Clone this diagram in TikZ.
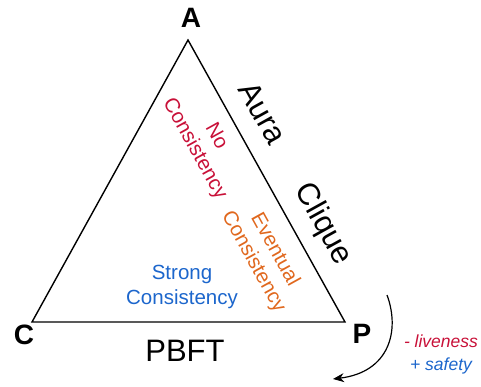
\documentclass[tikz,border=0pt]{standalone}
\usepackage{fontspec}
\setmainfont{Liberation Sans}
\usetikzlibrary{arrows.meta}
\definecolor{cred}{RGB}{200,16,56}
\definecolor{corange}{RGB}{224,104,30}
\definecolor{cblue}{RGB}{28,102,204}
\begin{document}
\begin{tikzpicture}[x=1pt,y=-1pt,
  vert/.style={font=\fontsize{28}{30}\selectfont\bfseries, inner sep=0pt},
  edgelbl/.style={font=\fontsize{31}{34}\selectfont, inner sep=0pt},
  region/.style={font=\fontsize{20.5}{24.5}\selectfont, align=center, inner sep=0pt},
  note/.style={font=\fontsize{17.5}{23}\selectfont\itshape, align=center, inner sep=0pt}]
\useasboundingbox (0,0) rectangle (481,386);
\coordinate (a) at (188,40);
\coordinate (c) at (32,322);
\coordinate (p) at (345,322);
\draw[line width=1.4pt, line join=miter] (a) -- (p) -- (c) -- cycle;
\node[vert] (la) at (191,18) {A};
\node[vert] (lc) at (24,335) {C};
\node[vert] (lp) at (362,334) {P};
\node[edgelbl] (pbft) at (185,351) {PBFT};
\node[edgelbl, rotate=-61] (aura) at (263,113) {Aura};
\node[edgelbl, rotate=-61] (clique) at (323,224) {Clique};
\node[region, text=cred, rotate=-61] (nocons) at (205,143) {No\\Consistency};
\node[region, text=corange, rotate=-61] (evcons) at (264,256) {Eventual\\Consistency};
\node[region, text=cblue] (strong) at (182,287) {Strong\\Consistency};
\node[note] (notes) at (441,354) {\textcolor{cred}{- liveness}\\\textcolor{cblue}{+ safety}};
\coordinate (s1) at (387,295);
\coordinate (s2) at (333,379);
\draw[line width=1.2pt, -{Stealth[length=11pt,width=9pt]}] (s1) .. controls (400,330) and (390,372) .. (s2);
\end{tikzpicture}
\end{document}
